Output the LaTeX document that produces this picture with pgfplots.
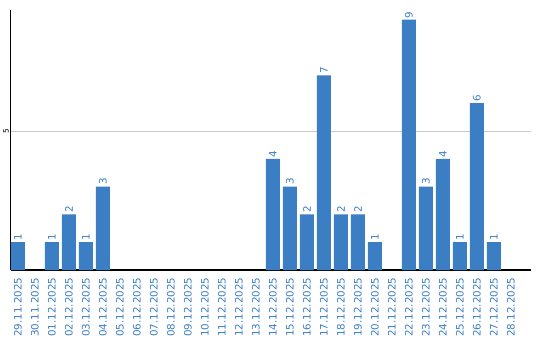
\documentclass[border=0pt]{standalone}
\usepackage{fontspec}
\setmainfont{DejaVu Sans}
\usepackage{pgfplots}
\pgfplotsset{compat=1.18}
\definecolor{barblue}{HTML}{3B7EC3}
\definecolor{gridgray}{HTML}{C8C8C8}
\begin{document}
\begin{tikzpicture}[x=1pt,y=1pt]
\useasboundingbox (0,0) rectangle (540,340);
\begin{axis}[
  at={(10.5pt,70pt)}, anchor=south west,
  width=520.5pt, height=260pt, scale only axis,
  xmin=-0.44, xmax=30.18, ymin=0, ymax=9.35,
  axis lines=left,
  axis line style={-, black, line width=1.2pt},
  ytick={5}, ymajorgrids, grid style={gridgray, line width=0.9pt},
  major tick length=0pt,
  /pgf/number format/assume math mode=true,
  yticklabel style={rotate=90, anchor=south, font=\fontsize{7.5}{8}\selectfont, inner sep=1.5pt},
  xtick={0,...,29},
  xticklabels={29.11.2025,30.11.2025,01.12.2025,02.12.2025,03.12.2025,04.12.2025,05.12.2025,06.12.2025,07.12.2025,08.12.2025,09.12.2025,10.12.2025,11.12.2025,12.12.2025,13.12.2025,14.12.2025,15.12.2025,16.12.2025,17.12.2025,18.12.2025,19.12.2025,20.12.2025,21.12.2025,22.12.2025,23.12.2025,24.12.2025,25.12.2025,26.12.2025,27.12.2025,28.12.2025},
  xticklabel style={rotate=90, anchor=east, font=\fontsize{10.3}{11}\selectfont, text=barblue, inner sep=0pt},
  xticklabel shift=7.5pt,
  ybar, bar width=14pt,
  nodes near coords,
  every node near coord/.append style={rotate=90, anchor=west, font=\fontsize{10.3}{11}\selectfont, text=barblue, inner sep=1.5pt},
  y filter/.expression={y==0 ? nan : y},
  unbounded coords=discard,
  clip=false,
]
\addplot[fill=barblue, draw=none] coordinates {
(0,1) (1,0) (2,1) (3,2) (4,1) (5,3) (6,0) (7,0) (8,0) (9,0) (10,0) (11,0) (12,0) (13,0) (14,0)
(15,4) (16,3) (17,2) (18,7) (19,2) (20,2) (21,1) (22,0) (23,9) (24,3) (25,4) (26,1) (27,6) (28,1) (29,0)
};
\end{axis}
\end{tikzpicture}
\end{document}
